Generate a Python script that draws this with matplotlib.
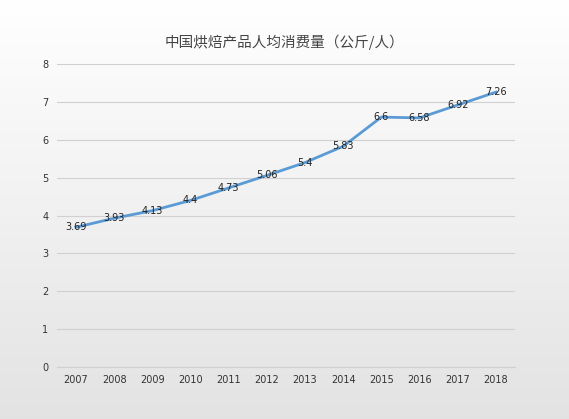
import matplotlib
matplotlib.use("Agg")
import matplotlib.pyplot as plt
import numpy as np

years = ["2007","2008","2009","2010","2011","2012","2013","2014","2015","2016","2017","2018"]
values = [3.69, 3.93, 4.13, 4.4, 4.73, 5.06, 5.4, 5.83, 6.6, 6.58, 6.92, 7.26]
labels = ["3.69","3.93","4.13","4.4","4.73","5.06","5.4","5.83","6.6","6.58","6.92","7.26"]
title = "中国烘焙产品人均消费量（公斤/人）"

plt.rcParams['font.family'] = ['Noto Sans CJK SC', 'DejaVu Sans']
fig = plt.figure(figsize=(5.69, 4.19), dpi=100)
bg = fig.add_axes([0, 0, 1, 1], zorder=-10)
grad = np.linspace(1.0, 0.89, 256).reshape(-1, 1)
bg.imshow(np.dstack([grad]*3), aspect='auto', extent=[0, 1, 0, 1])
bg.axis('off')

ax = fig.add_axes([0.100, 0.124, 0.805, 0.723])
ax.patch.set_alpha(0)
x = np.arange(len(years))
ax.plot(x, values, color='#5b9bd5', lw=2, zorder=3)
for xi, v, l in zip(x, values, labels):
    ax.text(xi, v, l, ha='center', va='center', fontsize=7, color='#222222',
            family='DejaVu Sans', zorder=4)
ax.set_xlim(-0.5, 11.5)
ax.set_ylim(0, 8)
ax.set_yticks(range(9))
ax.set_xticks(x)
ax.set_xticklabels(years)
ax.tick_params(length=0, labelsize=7, colors='#333333', pad=6)
for lab in ax.get_xticklabels() + ax.get_yticklabels():
    lab.set_family('DejaVu Sans')
ax.grid(axis='y', color='#d0d0d0', lw=0.8)
ax.set_axisbelow(True)
for s in ['top', 'right', 'left']:
    ax.spines[s].set_visible(False)
ax.spines['bottom'].set_color('#d0d0d0')
fig.text(0.5, 0.9, title, ha='center', va='center', fontsize=10.5, color='#444444')
fig.savefig('out.png', dpi=100)
